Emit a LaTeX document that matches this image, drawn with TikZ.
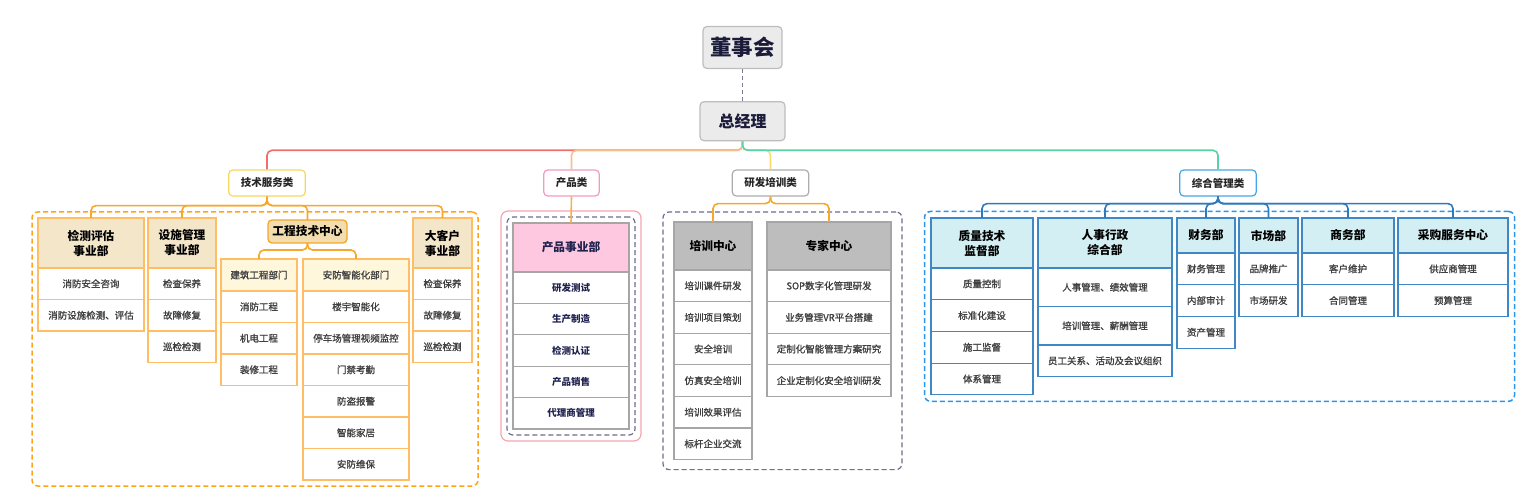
\documentclass[tikz,border=0pt]{standalone}
\usepackage{fontspec}
\setmainfont{Noto Sans CJK SC}
\newfontfamily\dutyfont{Noto Sans CJK SC}[FakeBold=1.2]
\usetikzlibrary{positioning,fit,backgrounds}

\definecolor{boardfill}{HTML}{EBEBEB}
\definecolor{boardline}{HTML}{BDBDBD}
\definecolor{navy}{HTML}{1B1B3A}
\definecolor{linkdash}{HTML}{7B7B9B}
\definecolor{busred}{HTML}{F26D6D}
\definecolor{buspeach}{HTML}{F9BF8F}
\definecolor{busyellow}{HTML}{F7DC6F}
\definecolor{busgreen}{HTML}{58D3A3}
\definecolor{catyellow}{HTML}{F6D860}
\definecolor{catpink}{HTML}{F29AC4}
\definecolor{catgray}{HTML}{ADADAD}
\definecolor{catblue}{HTML}{45A6E6}
\definecolor{techline}{HTML}{F7A72B}
\definecolor{techdash}{HTML}{FFA31A}
\definecolor{techbox}{HTML}{FFBE66}
\definecolor{techfill}{HTML}{F3E6C9}
\definecolor{techsub}{HTML}{FFF7DC}
\definecolor{techmid}{HTML}{F1DDB0}
\definecolor{techmidline}{HTML}{F5A623}
\definecolor{prodline}{HTML}{F7B04A}
\definecolor{pinkframe}{HTML}{F6A5B0}
\definecolor{innerdash}{HTML}{6E6C8E}
\definecolor{prodfill}{HTML}{FFC8E1}
\definecolor{graybox}{HTML}{A6A6A6}
\definecolor{prodtext}{HTML}{20224F}
\definecolor{rdfill}{HTML}{BDBDBD}
\definecolor{mgline}{HTML}{2F79BD}
\definecolor{mgdash}{HTML}{2A95E8}
\definecolor{mgbox}{HTML}{3F88C5}
\definecolor{mgfill}{HTML}{D4EFF3}
\definecolor{itemtext}{HTML}{404040}

\tikzset{%
	board/.style      = {draw=boardline, fill=boardfill, rounded corners=4pt, line width=1.2pt, text=navy, inner sep=0pt}, % top
	catbox/.style     = {draw=#1, fill=white, rounded corners=4pt, line width=1.2pt, minimum height=26pt, inner xsep=12pt, text=black!85, font=\fontsize{10.5}{12}\selectfont\bfseries}, % category
	bus/.style        = {draw=#1, line width=1.6pt, rounded corners=5pt}, % connector
	deptbox/.style    = {draw=#1, line width=1.1pt, outer sep=0pt, inner sep=1pt, align=center, anchor=north west, font=\fontsize{11.7}{15}\selectfont\bfseries}, % header
	dutybox/.style    = {draw=#1, fill=white, line width=1.1pt, outer sep=0pt, inner sep=1pt, minimum height=31.5pt, text=itemtext, font=\dutyfont\fontsize{9.5}{11}\selectfont}, % item
	prodduty/.style   = {dutybox=graybox, minimum height=31.4pt, text=prodtext, font=\fontsize{9.5}{11}\selectfont\bfseries}, % product item
	groupframe/.style = {draw=#1, line width=1.5pt, rounded corners=6pt, dash pattern=on 5pt off 3pt}, % group
}

\begin{document}
\begin{tikzpicture}[x=1pt, y=-1pt]
	\useasboundingbox (0,0) rectangle (1535,494);
	% top
	\node[board, minimum width=79pt, minimum height=42pt, font=\fontsize{21.5}{24}\selectfont\bfseries] (dsh) at (742.5,47.5) {董事会};
	\node[board, minimum width=85pt, minimum height=39pt, font=\fontsize{16}{18}\selectfont\bfseries, below=32pt of dsh] (zjl) {总经理};
	
	\node[catbox=catyellow] (jsfw) at (267,183) {技术服务类};
	\node[catbox=catpink] (cpl) at (571.5,183) {产品类};
	\node[catbox=catgray] (yfpx) at (770.5,183) {研发培训类};
	\node[catbox=catblue] (zhgl) at (1218,183) {综合管理类};
	
	% 技术服务类
	\begin{scope}[nodes={minimum width=106pt}]
		\node[deptbox=techbox, fill=techfill, minimum height=50pt] (jc) at (38,218) {检测评估\\事业部};
		\node[dutybox=techbox, below=0pt of jc] (jc1) {消防安全咨询};
		\node[dutybox=techbox, below=0pt of jc1] (jc2) {消防设施检测、评估};
	\end{scope}
	\begin{scope}[nodes={minimum width=68pt}]
		\node[deptbox=techbox, fill=techfill, minimum height=50pt] (ss) at (148,218) {设施管理\\事业部};
		\node[dutybox=techbox, below=0pt of ss] (ss1) {检查保养};
		\node[dutybox=techbox, below=0pt of ss1] (ss2) {故障修复};
		\node[dutybox=techbox, below=0pt of ss2] (ss3) {巡检检测};
	\end{scope}
	\node[deptbox=techmidline, fill=techmid, rounded corners=4pt, line width=1.3pt, minimum width=79pt, minimum height=23pt, anchor=center] (gc) at (307.5,231.5) {工程技术中心};
	\begin{scope}[nodes={minimum width=76pt}]
		\node[deptbox=techbox, fill=techsub, minimum height=32pt, font=\dutyfont\fontsize{9.5}{11}\selectfont, text=itemtext] (jz) at (221,259) {建筑工程部门};
		\node[dutybox=techbox, below=0pt of jz] (jz1) {消防工程};
		\node[dutybox=techbox, below=0pt of jz1] (jz2) {机电工程};
		\node[dutybox=techbox, below=0pt of jz2] (jz3) {装修工程};
	\end{scope}
	\begin{scope}[nodes={minimum width=106pt}]
		\node[deptbox=techbox, fill=techsub, minimum height=32pt, font=\dutyfont\fontsize{9.5}{11}\selectfont, text=itemtext] (af) at (303,259) {安防智能化部门};
		\node[dutybox=techbox, below=0pt of af] (af1) {楼宇智能化};
		\node[dutybox=techbox, below=0pt of af1] (af2) {停车场管理视频监控};
		\node[dutybox=techbox, below=0pt of af2] (af3) {门禁考勤};
		\node[dutybox=techbox, below=0pt of af3] (af4) {防盗报警};
		\node[dutybox=techbox, below=0pt of af4] (af5) {智能家居};
		\node[dutybox=techbox, below=0pt of af5] (af6) {安防维保};
	\end{scope}
	\begin{scope}[nodes={minimum width=59pt}]
		\node[deptbox=techbox, fill=techfill, minimum height=50pt] (dk) at (413,218) {大客户\\事业部};
		\node[dutybox=techbox, below=0pt of dk] (dk1) {检查保养};
		\node[dutybox=techbox, below=0pt of dk1] (dk2) {故障修复};
		\node[dutybox=techbox, below=0pt of dk2] (dk3) {巡检检测};
	\end{scope}
	
	% 产品类
	\begin{scope}[nodes={minimum width=116pt}]
		\node[deptbox=graybox, fill=prodfill, text=prodtext, minimum height=49pt] (cp) at (513,223) {产品事业部};
		\node[prodduty, below=0pt of cp] (cp1) {研发测试};
		\node[prodduty, below=0pt of cp1] (cp2) {生产制造};
		\node[prodduty, below=0pt of cp2] (cp3) {检测认证};
		\node[prodduty, below=0pt of cp3] (cp4) {产品销售};
		\node[prodduty, below=0pt of cp4] (cp5) {代理商管理};
	\end{scope}
	
	% 研发培训类
	\begin{scope}[nodes={minimum width=78pt}]
		\node[deptbox=graybox, fill=rdfill, minimum height=48pt] (px) at (674,222) {培训中心};
		\node[dutybox=graybox, minimum height=31.6pt, below=0pt of px] (px1) {培训课件研发};
		\node[dutybox=graybox, minimum height=31.6pt, below=0pt of px1] (px2) {培训项目策划};
		\node[dutybox=graybox, minimum height=31.6pt, below=0pt of px2] (px3) {安全培训};
		\node[dutybox=graybox, minimum height=31.6pt, below=0pt of px3] (px4) {仿真安全培训};
		\node[dutybox=graybox, minimum height=31.6pt, below=0pt of px4] (px5) {培训效果评估};
		\node[dutybox=graybox, minimum height=31.6pt, below=0pt of px5] (px6) {标杆企业交流};
	\end{scope}
	\begin{scope}[nodes={minimum width=124pt}]
		\node[deptbox=graybox, fill=rdfill, minimum height=48pt] (zj) at (767,222) {专家中心};
		\node[dutybox=graybox, minimum height=31.6pt, below=0pt of zj] (zj1) {SOP数字化管理研发};
		\node[dutybox=graybox, minimum height=31.6pt, below=0pt of zj1] (zj2) {业务管理VR平台搭建};
		\node[dutybox=graybox, minimum height=31.6pt, below=0pt of zj2] (zj3) {定制化智能管理方案研究};
		\node[dutybox=graybox, minimum height=31.6pt, below=0pt of zj3] (zj4) {企业定制化安全培训研发};
	\end{scope}
	
	% 综合管理类
	\begin{scope}[nodes={minimum width=102pt}]
		\node[deptbox=mgbox, fill=mgfill, minimum height=50pt] (zl) at (931,218) {质量技术\\监督部};
		\node[dutybox=mgbox, minimum height=31.7pt, below=0pt of zl] (zl1) {质量控制};
		\node[dutybox=mgbox, minimum height=31.7pt, below=0pt of zl1] (zl2) {标准化建设};
		\node[dutybox=mgbox, minimum height=31.7pt, below=0pt of zl2] (zl3) {施工监督};
		\node[dutybox=mgbox, minimum height=31.7pt, below=0pt of zl3] (zl4) {体系管理};
	\end{scope}
	\begin{scope}[nodes={minimum width=134pt}]
		\node[deptbox=mgbox, fill=mgfill, minimum height=50pt] (rs) at (1038,218) {人事行政\\综合部};
		\node[dutybox=mgbox, minimum height=38.5pt, below=0pt of rs] (rs1) {人事管理、绩效管理};
		\node[dutybox=mgbox, minimum height=38.5pt, below=0pt of rs1] (rs2) {培训管理、薪酬管理};
		\node[dutybox=mgbox, minimum height=31.7pt, below=0pt of rs2] (rs3) {员工关系、活动及会议组织};
	\end{scope}
	\begin{scope}[nodes={minimum width=58pt}]
		\node[deptbox=mgbox, fill=mgfill, minimum height=35pt] (cw) at (1177,218) {财务部};
		\node[dutybox=mgbox, minimum height=31.7pt, below=0pt of cw] (cw1) {财务管理};
		\node[dutybox=mgbox, minimum height=31.7pt, below=0pt of cw1] (cw2) {内部审计};
		\node[dutybox=mgbox, minimum height=31.7pt, below=0pt of cw2] (cw3) {资产管理};
	\end{scope}
	\begin{scope}[nodes={minimum width=59pt}]
		\node[deptbox=mgbox, fill=mgfill, minimum height=35pt] (sc) at (1239,218) {市场部};
		\node[dutybox=mgbox, minimum height=31.7pt, below=0pt of sc] (sc1) {品牌推广};
		\node[dutybox=mgbox, minimum height=31.7pt, below=0pt of sc1] (sc2) {市场研发};
	\end{scope}
	\begin{scope}[nodes={minimum width=92pt}]
		\node[deptbox=mgbox, fill=mgfill, minimum height=35pt] (sw) at (1302,218) {商务部};
		\node[dutybox=mgbox, minimum height=31.7pt, below=0pt of sw] (sw1) {客户维护};
		\node[dutybox=mgbox, minimum height=31.7pt, below=0pt of sw1] (sw2) {合同管理};
	\end{scope}
	\begin{scope}[nodes={minimum width=110pt}]
		\node[deptbox=mgbox, fill=mgfill, minimum height=35pt] (cg) at (1398,218) {采购服务中心};
		\node[dutybox=mgbox, minimum height=31.7pt, below=0pt of cg] (cg1) {供应商管理};
		\node[dutybox=mgbox, minimum height=31.7pt, below=0pt of cg1] (cg2) {预算管理};
	\end{scope}
	
	% connectors
	\draw[linkdash, line width=1.2pt, dash pattern=on 4pt off 3pt] (dsh) -- (zjl);
	\draw[bus=busred] (zjl.south) -- ++(0,9) -| (jsfw.north);
	\draw[bus=buspeach] (zjl.south) -- ++(0,9) -| (cpl.north);
	\draw[bus=busyellow] (zjl.south) -- ++(0,9) -| (yfpx.north);
	\draw[bus=busgreen] (zjl.south) -- ++(0,9) -| (zhgl.north);
	
	\draw[bus=techline] (jsfw.south) -- ++(0,9) -| (jc.north);
	\draw[bus=techline] (jsfw.south) -- ++(0,9) -| (ss.north);
	\draw[bus=techline] (jsfw.south) -- ++(0,9) -| (gc.north);
	\draw[bus=techline] (jsfw.south) -- ++(0,9) -| (dk.north);
	\draw[bus=techline] (gc.south) -- ++(0,7) -| (jz.north);
	\draw[bus=techline] (gc.south) -- ++(0,7) -| (af.north);
	
	\draw[bus=prodline] (cpl.south) -- (cp.north);
	
	\draw[bus=techline] (yfpx.south) -- ++(0,7) -| (px.north);
	\draw[bus=techline] (yfpx.south) -- ++(0,7) -| (zj.north);
	
	\draw[bus=mgline] (zhgl.south) -- ++(0,7) -| (zl.north);
	\draw[bus=mgline] (zhgl.south) -- ++(0,7) -| (rs.north);
	\draw[bus=mgline] (zhgl.south) -- ++(0,7) -| (cw.north);
	\draw[bus=mgline] (zhgl.south) -- ++(0,7) -| (sc.north);
	\draw[bus=mgline] (zhgl.south) -- ++(0,7) -| (sw.north);
	\draw[bus=mgline] (zhgl.south) -- ++(0,7) -| (cg.north);
	
	% group frames
	\begin{scope}[on background layer]
		\node[groupframe=techdash, inner sep=6pt, fit=(jc) (dk) (af6)] (jsframe) {};
		\node[draw=pinkframe, line width=1.2pt, rounded corners=7pt, inner sep=12pt, fit=(cp) (cp5)] (cpframe) {};
		\node[groupframe=innerdash, line width=1.2pt, inner sep=6pt, fit=(cp) (cp5)] (cpinner) {};
		\node[groupframe=innerdash, line width=1.2pt, inner xsep=11pt, inner ysep=10pt, fit=(px) (zj) (px6)] (yfframe) {};
		\node[groupframe=mgdash, inner sep=6.5pt, fit=(zl) (cg) (zl4)] (zhframe) {};
	\end{scope}
\end{tikzpicture}
\end{document}
